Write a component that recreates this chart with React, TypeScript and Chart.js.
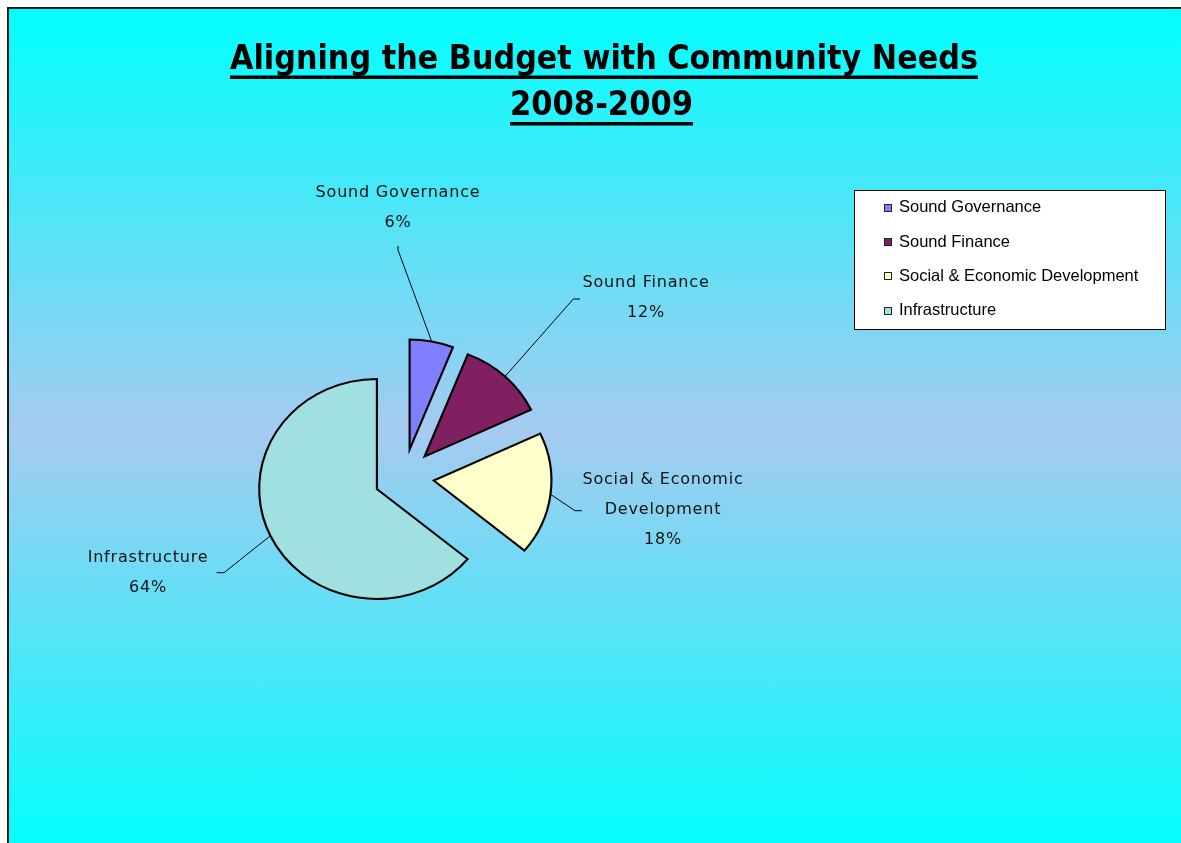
import React, { useEffect, useRef } from "react";
import { Chart, registerables } from "chart.js";

Chart.register(...registerables);

// Budget shares for 2008-2009, in percent
const CATEGORIES = [
  "Sound Governance",
  "Sound Finance",
  "Social & Economic Development",
  "Infrastructure",
];
const SHARES = [6, 12, 18, 64];
const SLICE_COLORS = ["#8080FF", "#802060", "#FFFFCC", "#A0E0E0"];
const TITLE_LINES = ["Aligning the Budget with Community Needs", "2008-2009"];

// Canvas and pie geometry
const W = 1180;
const H = 844;
const RADIUS = 110;
const EXPLODE = 28;
const STRETCH_X = 1.07;

// Title layout: target widths, centres, baselines and underline rows
const TITLE_WIDTH = [748, 183];
const TITLE_CX = [595, 592.5];
const TITLE_BASE = [59.5, 106];
const UNDERLINE_Y = [66.5, 113];

// Slice label layout: centre x, first line middle y, leader elbow (near, far)
const LABEL_LAYOUT = [
  { x: 389, y: 184, elbow: [389, 241, 389, 237] },
  { x: 637, y: 274, elbow: [564.3, 290, 571, 290] },
  { x: 654, y: 471, elbow: [566, 501.7, 572.7, 501.7] },
  { x: 139, y: 549, elbow: [215, 563.7, 207.7, 563.7] },
];
const LABEL_LINE_GAP = 30;
const LABEL_MAX_WIDTH = 175;

// Legend box
const LEGEND_BOX = { x: 845.5, y: 181.5, w: 311, h: 139 };
const LEGEND_ROW0 = 198.7;
const LEGEND_ROW_GAP = 34.3;
const LEGEND_SWATCH_X = 875;
const LEGEND_TEXT_X = 890;

function wrapText(ctx: CanvasRenderingContext2D, text: string, maxWidth: number): string[] {
  const words = text.split(" ");
  const lines: string[] = [];
  let cur = "";
  for (const w of words) {
    const trial = cur ? cur + " " + w : w;
    if (cur && ctx.measureText(trial).width > maxWidth) {
      lines.push(cur);
      cur = w;
    } else {
      cur = trial;
    }
  }
  if (cur) lines.push(cur);
  return lines;
}

// Draws each slice pulled out from the centre along its mid angle
const explodedPie = {
  id: "explodedPie",
  beforeDatasetsDraw(chart: any) {
    const ctx = chart.ctx as CanvasRenderingContext2D;
    const meta = chart.getDatasetMeta(0);
    meta.data.forEach((arc: any) => {
      const { x, y, startAngle, endAngle } = arc.getProps(["x", "y", "startAngle", "endAngle"], true);
      const mid = (startAngle + endAngle) / 2;
      ctx.save();
      ctx.translate(x, y);
      ctx.scale(STRETCH_X, 1);
      ctx.translate(Math.cos(mid) * EXPLODE, Math.sin(mid) * EXPLODE);
      ctx.translate(-x, -y);
      arc.draw(ctx);
      ctx.restore();
    });
    return false;
  },
};

// Title, slice labels with leader lines, and the boxed legend
const decorations = {
  id: "decorations",
  afterDraw(chart: any) {
    const ctx = chart.ctx as CanvasRenderingContext2D;
    const meta = chart.getDatasetMeta(0);
    const values: number[] = chart.data.datasets[0].data;
    const total = values.reduce((a, b) => a + b, 0);

    // Title
    ctx.save();
    ctx.fillStyle = "#000";
    ctx.font = "bold 33px 'DejaVu Sans'";
    ctx.textAlign = "center";
    ctx.textBaseline = "alphabetic";
    TITLE_LINES.forEach((t, i) => {
      const m = ctx.measureText(t).width;
      const w = TITLE_WIDTH[i];
      ctx.save();
      ctx.translate(TITLE_CX[i], TITLE_BASE[i]);
      ctx.scale(w / m, 1);
      ctx.fillText(t, 0, 0);
      ctx.restore();
      ctx.fillRect(TITLE_CX[i] - w / 2, UNDERLINE_Y[i], w, 3.5);
    });
    ctx.restore();

    // Slice labels and leader lines
    ctx.save();
    ctx.font = "16px 'DejaVu Sans'";
    (ctx as any).letterSpacing = "0.8px";
    ctx.textAlign = "center";
    ctx.textBaseline = "middle";
    ctx.fillStyle = "#111";
    ctx.strokeStyle = "#000";
    ctx.lineWidth = 1;
    meta.data.forEach((arc: any, i: number) => {
      const { x, y, startAngle, endAngle, outerRadius } = arc.getProps(
        ["x", "y", "startAngle", "endAngle", "outerRadius"],
        true
      );
      const mid = (startAngle + endAngle) / 2;
      const ax = x + STRETCH_X * Math.cos(mid) * (outerRadius + EXPLODE);
      const ay = y + Math.sin(mid) * (outerRadius + EXPLODE);
      const lay = LABEL_LAYOUT[i];
      const [ex1, ey1, ex2, ey2] = lay.elbow;
      ctx.beginPath();
      ctx.moveTo(ax, ay);
      ctx.lineTo(ex1, ey1);
      ctx.lineTo(ex2, ey2);
      ctx.stroke();

      const lines = wrapText(ctx, chart.data.labels[i], LABEL_MAX_WIDTH);
      lines.push(Math.round((values[i] / total) * 100) + "%");
      lines.forEach((ln, k) => {
        ctx.fillText(ln, lay.x, lay.y + k * LABEL_LINE_GAP);
      });
    });
    ctx.restore();

    // Legend
    ctx.save();
    ctx.fillStyle = "#FFFFFF";
    ctx.fillRect(LEGEND_BOX.x, LEGEND_BOX.y, LEGEND_BOX.w, LEGEND_BOX.h);
    ctx.strokeStyle = "#000";
    ctx.lineWidth = 1;
    ctx.strokeRect(LEGEND_BOX.x, LEGEND_BOX.y, LEGEND_BOX.w, LEGEND_BOX.h);
    ctx.font = "16.5px 'Liberation Sans'";
    ctx.textAlign = "left";
    ctx.textBaseline = "middle";
    const colors: string[] = chart.data.datasets[0].backgroundColor;
    chart.data.labels.forEach((lab: string, i: number) => {
      const cy = LEGEND_ROW0 + i * LEGEND_ROW_GAP;
      const sy = Math.round(cy) - 3.5;
      ctx.fillStyle = colors[i];
      ctx.fillRect(LEGEND_SWATCH_X + 0.5, sy, 7, 7);
      ctx.strokeStyle = "#222";
      ctx.strokeRect(LEGEND_SWATCH_X + 0.5, sy, 7, 7);
      ctx.fillStyle = "#000";
      ctx.fillText(lab, LEGEND_TEXT_X, cy);
    });
    ctx.restore();
  },
};

export default function App() {
  const canvasRef = useRef<HTMLCanvasElement | null>(null);

  useEffect(() => {
    if (!canvasRef.current) return;
    const chart = new Chart(canvasRef.current, {
      type: "pie",
      data: {
        labels: CATEGORIES,
        datasets: [
          {
            data: SHARES,
            backgroundColor: SLICE_COLORS,
            borderColor: "#000000",
            borderWidth: 2,
            borderJoinStyle: "miter",
            radius: RADIUS,
          } as any,
        ],
      },
      options: {
        responsive: false,
        animation: false,
        events: [],
        layout: { padding: { left: 0, right: 390, top: 92, bottom: 0 } },
        plugins: {
          legend: { display: false },
          title: { display: false },
          tooltip: { enabled: false },
        },
      },
      plugins: [explodedPie, decorations],
    });
    return () => chart.destroy();
  }, []);

  return (
    <div
      style={{
        position: "fixed",
        left: 7,
        top: 7,
        width: W + 2,
        height: H + 2,
        boxSizing: "border-box",
        borderLeft: "2px solid #1a1a1a",
        borderTop: "2px solid #1a1a1a",
        background: "linear-gradient(to bottom, #00FFFF 0%, #A6CAF0 50%, #00FFFF 100%)",
        overflow: "hidden",
      }}
    >
      <canvas ref={canvasRef} width={W} height={H} style={{ display: "block" }} />
    </div>
  );
}
